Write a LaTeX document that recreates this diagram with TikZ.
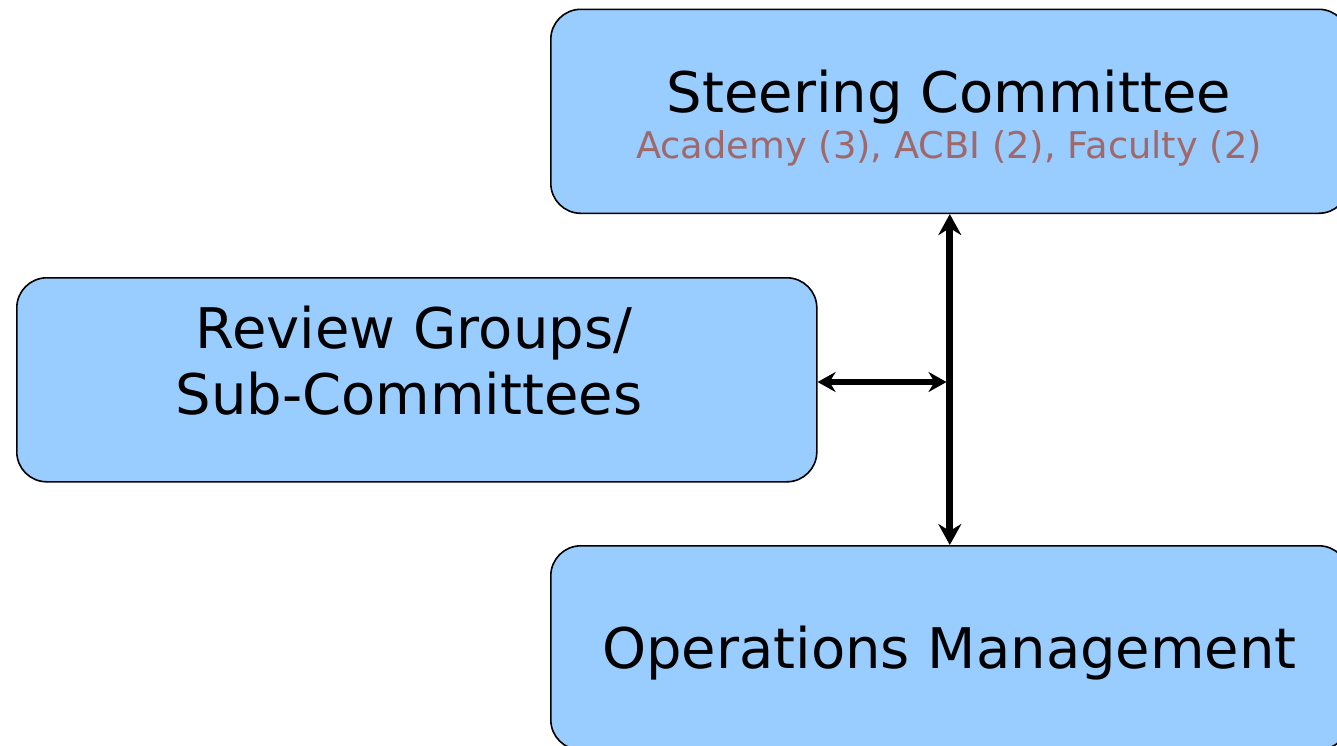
\documentclass[tikz,border=0pt]{standalone}
\usepackage{fontspec}
\setmainfont{DejaVu Sans}
\usetikzlibrary{arrows.meta}
\definecolor{boxblue}{RGB}{153,204,255}
\definecolor{subrose}{RGB}{160,104,104}
\begin{document}
\begin{tikzpicture}[x=1pt,y=-1pt,
  box/.style={draw=black,line width=1.6pt,fill=boxblue,rounded corners=30pt,minimum width=798pt,minimum height=204pt,inner sep=0pt,anchor=north west},
  bigtxt/.style={font=\fontsize{56}{66}\selectfont,anchor=base,inner sep=0pt},
  subtxt/.style={font=\fontsize{36.8}{42}\selectfont,text=subrose,anchor=base,inner sep=0pt},
  vconn/.style={line width=7pt,{Stealth[length=21pt,width=23pt,inset=7pt]}-{Stealth[length=21pt,width=23pt,inset=7pt]}},
  hconn/.style={line width=5.5pt,{Stealth[length=18pt,width=20pt,inset=6pt]}-{Stealth[length=18pt,width=20pt,inset=6pt]}}]
\useasboundingbox (0,0) rectangle (1337,745);
\fill[white] (0,0) rectangle (1337,745);
\begin{scope}
\clip (0,0) rectangle (1337,745);
\node[box] (steer) at (550,8.5) {};
\node[box,minimum width=800pt] (review) at (16,277) {};
\node[box] (ops) at (550,545) {};
\end{scope}
\node[bigtxt] (steert) at (949,112) {Steering Committee};
\node[subtxt] (steers) at (949,158) {Academy (3), ACBI (2), Faculty (2)};
\node[bigtxt] (rev1) at (414,348) {Review Groups/};
\node[bigtxt] (rev2) at (409,414) {Sub-Committees};
\node[bigtxt] (opst) at (949.5,668) {Operations Management};
\coordinate (j) at (946.5,382);
\draw[vconn] (steer.south) -- (ops.north);
\draw[hconn] (j -| review.east) -- (j);
\end{tikzpicture}
\end{document}
